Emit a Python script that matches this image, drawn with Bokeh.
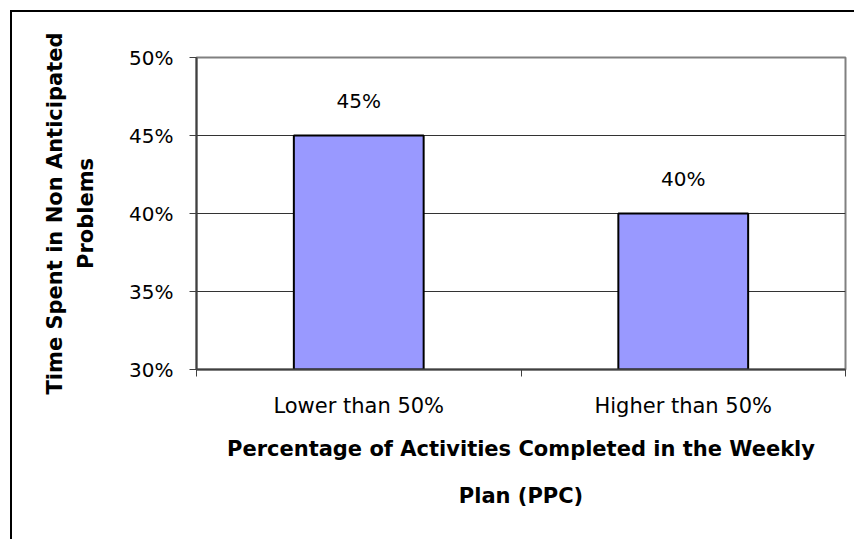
from bokeh.core.properties import value
from bokeh.embed import file_html
from bokeh.models import (ColumnDataSource, FixedTicker, LabelSet,
                          NumeralTickFormatter, Range1d, Title)
from bokeh.plotting import figure
from bokeh.resources import INLINE

# Data
categories = ["Lower than 50%", "Higher than 50%"]
time_share = [0.45, 0.40]
value_labels = ["45%", "40%"]
y_ticks = [0.30, 0.35, 0.40, 0.45, 0.50]

x_title = ["Percentage of Activities Completed in the Weekly", "Plan (PPC)"]
y_title = ["Time Spent in Non Anticipated", "Problems"]

FONT = "DejaVu Sans"
Y_MIN, Y_MAX = y_ticks[0], y_ticks[-1]

centers = [i + 0.5 for i in range(len(categories))]
source = ColumnDataSource(data=dict(x=centers, top=time_share, label=value_labels))

p = figure(
    width=844, height=529,
    x_range=Range1d(0, len(categories)),
    y_range=Range1d(Y_MIN, Y_MAX),
    output_backend="svg", toolbar_location=None,
    min_border_left=184, min_border_right=11,
    min_border_top=45, min_border_bottom=172,
)
p.styles = {
    "margin-left": "10px", "margin-top": "10px",
    "border-left": "2px solid black", "border-top": "2px solid black",
}
p.background_fill_color = "white"
p.border_fill_color = "white"
p.outline_line_color = "#808080"
p.outline_line_width = 2

# Bars
p.vbar(x="x", top="top", bottom=Y_MIN, width=0.40, source=source,
       fill_color="#9999FF", line_color="black", line_width=2)

# Value labels above the bars
p.add_layout(LabelSet(x="x", y="top", text="label", source=source,
                      y_offset=23, text_align="center", text_baseline="bottom",
                      text_font=value(FONT), text_font_size="20px",
                      text_color="black"))

# Y axis; the inner title line is the axis label, the outer one a Title
yaxis = p.yaxis[0]
yaxis.ticker = FixedTicker(ticks=y_ticks)
yaxis.formatter = NumeralTickFormatter(format="0%")
yaxis.major_tick_in = 0
yaxis.major_tick_out = 7
yaxis.minor_tick_line_color = None
yaxis.axis_line_color = "#404040"
yaxis.axis_line_width = 2
yaxis.major_tick_line_color = "#404040"
yaxis.major_label_standoff = 16
yaxis.major_label_text_font = FONT
yaxis.major_label_text_font_size = "20px"
yaxis.major_label_text_color = "black"
yaxis.axis_label = y_title[1]
yaxis.axis_label_standoff = 28
yaxis.axis_label_text_font = FONT
yaxis.axis_label_text_font_size = "21px"
yaxis.axis_label_text_font_style = "bold"
yaxis.axis_label_text_color = "black"

# X axis: labels at bar centres, tick marks between categories
xaxis = p.xaxis[0]
xaxis.ticker = FixedTicker(ticks=centers, minor_ticks=list(range(len(categories) + 1)))
xaxis.major_label_overrides = {c: name for c, name in zip(centers, categories)}
xaxis.major_tick_in = 0
xaxis.major_tick_out = 0
xaxis.minor_tick_in = 0
xaxis.minor_tick_out = 7
xaxis.minor_tick_line_color = "#404040"
xaxis.axis_line_color = "#404040"
xaxis.axis_line_width = 2
xaxis.major_label_standoff = 17
xaxis.major_label_text_font = FONT
xaxis.major_label_text_font_size = "21px"
xaxis.major_label_text_color = "black"
xaxis.axis_label = x_title[0]
xaxis.axis_label_standoff = 16
xaxis.axis_label_text_font = FONT
xaxis.axis_label_text_font_size = "21px"
xaxis.axis_label_text_font_style = "bold"
xaxis.axis_label_text_color = "black"

# Grid
p.xgrid.grid_line_color = None
p.ygrid.ticker = FixedTicker(ticks=y_ticks)
p.ygrid.grid_line_color = "#333333"
p.ygrid.grid_line_width = 1

# Outer title lines
title_style = dict(text_font=FONT, text_font_size="21px", text_font_style="bold",
                   text_color="black", align="center")
p.add_layout(Title(text=x_title[1], standoff=37, **title_style), "below")
p.add_layout(Title(text=y_title[0], standoff=9, **title_style), "left")

open("out.html", "w").write(file_html(p, INLINE))
